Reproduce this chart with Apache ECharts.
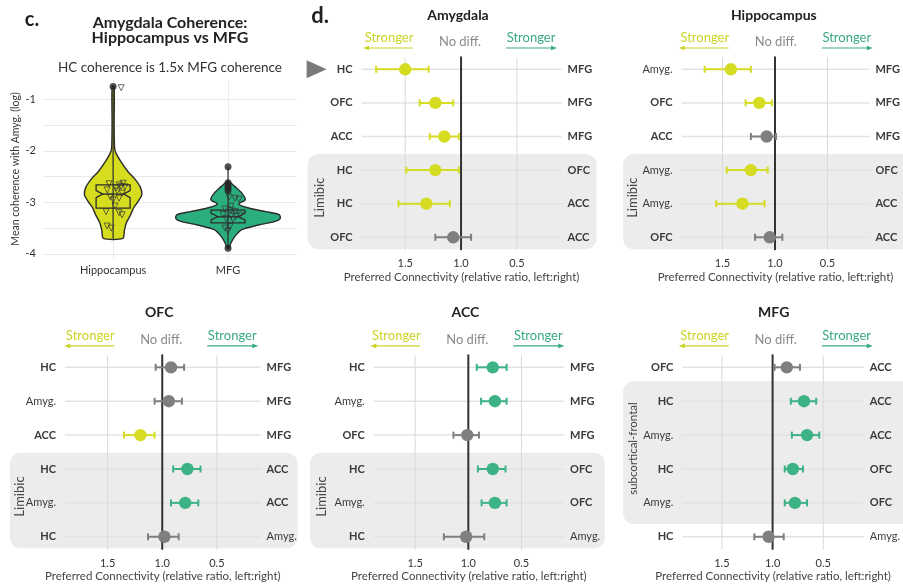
<!DOCTYPE html>
<html><head><meta charset="utf-8">
<script src="https://cdn.jsdelivr.net/npm/echarts@6/dist/echarts.min.js"></script>
<style>html,body{margin:0;padding:0;background:#fff}#c{width:903px;height:586px}</style>
</head><body><div id="c"></div>
<script>
// ---------------- DATA ----------------
// Panel c: violin
const violinGroups = ['Hippocampus', 'MFG'];
const yTickLabels = [-1, -2, -3, -4];
const yGridValues = [-1, -1.5, -2, -2.5, -3, -3.5, -4];
// density outline: y value and half width (x-axis units)
const hcProfileY = [-0.75, -1.5, -1.95, -2.05, -2.2, -2.4, -2.55, -2.7, -2.85, -3.0, -3.1, -3.25, -3.4, -3.55, -3.7];
const hcProfileW = [0.009, 0.009, 0.013, 0.026, 0.065, 0.128, 0.19, 0.236, 0.25, 0.212, 0.18, 0.15, 0.115, 0.098, 0.085];
const mfgProfileY = [-2.6, -2.69, -2.82, -2.95, -3.03, -3.11, -3.18, -3.24, -3.31, -3.37, -3.44, -3.53, -3.66, -3.79, -3.89];
const mfgProfileW = [0.013, 0.058, 0.12, 0.15, 0.093, 0.18, 0.33, 0.445, 0.455, 0.41, 0.265, 0.12, 0.06, 0.025, 0.009];
// notched box: q1, notch low, median, notch high, q3
const hcBox = [-3.11, -2.91, -2.84, -2.77, -2.66];
const mfgBox = [-3.40, -3.34, -3.28, -3.21, -3.15];
const hcWhisker = [-3.70, -0.76];
const mfgWhisker = [-3.89, -2.31];
const hcOutliers = [-0.75];
const mfgOutliers = [-2.31, -2.62, -2.67, -2.72, -2.77, -3.89];
const hcPtsY = [-0.775, -2.64, -2.66, -2.63, -2.69, -2.72, -2.70, -2.76, -2.78, -2.82, -2.89, -2.95, -2.92, -3.07, -3.18, -3.20, -3.24, -3.46, -3.50];
const hcPtsDx = [0.07, -0.035, 0.052, 0.087, 0.07, 0.026, 0.104, -0.052, 0.035, 0.078, -0.026, 0, 0.052, 0.017, -0.061, 0.052, 0.078, -0.052, -0.017];
const mfgPtsY = [-2.90, -2.92, -2.94, -3.07, -3.13, -3.16, -3.18, -3.24, -3.26, -3.27, -3.25, -3.31, -3.33, -3.47, -3.50, -3.55];
const mfgPtsDx = [0.009, 0.061, 0.096, 0.026, -0.026, 0.026, 0.061, -0.043, 0.026, 0.07, 0.104, -0.017, 0.043, 0.017, -0.026, 0];

// Panel d: forest plots (ratio left:right); sig 1 = left stronger, -1 = right stronger, 0 = no diff
const xTicks = [0.5, 1.0, 1.5];
const refValue = [1.0];

const amyLeft = ['HC', 'OFC', 'ACC', 'HC', 'HC', 'OFC'];
const amyRight = ['MFG', 'MFG', 'MFG', 'OFC', 'ACC', 'ACC'];
const amyEst = [1.50, 1.23, 1.15, 1.23, 1.31, 1.07];
const amyUpper = [1.76, 1.37, 1.28, 1.49, 1.56, 1.23];
const amyLower = [1.29, 1.07, 1.02, 1.02, 1.10, 0.91];
const amySig = [1, 1, 1, 1, 1, 0];

const hipLeft = ['Amyg.', 'OFC', 'ACC', 'Amyg.', 'Amyg.', 'OFC'];
const hipRight = ['MFG', 'MFG', 'MFG', 'OFC', 'ACC', 'ACC'];
const hipEst = [1.42, 1.15, 1.08, 1.23, 1.31, 1.05];
const hipUpper = [1.67, 1.28, 1.23, 1.46, 1.56, 1.19];
const hipLower = [1.23, 1.03, 0.99, 1.07, 1.10, 0.93];
const hipSig = [1, 1, 0, 1, 1, 0];

const ofcLeft = ['HC', 'Amyg.', 'ACC', 'HC', 'Amyg.', 'HC'];
const ofcRight = ['MFG', 'MFG', 'MFG', 'ACC', 'ACC', 'Amyg.'];
const ofcEst = [0.92, 0.94, 1.20, 0.77, 0.79, 0.98];
const ofcUpper = [1.06, 1.07, 1.35, 0.90, 0.92, 1.13];
const ofcLower = [0.80, 0.82, 1.07, 0.65, 0.67, 0.85];
const ofcSig = [0, 0, 1, -1, -1, 0];

const accLeft = ['HC', 'Amyg.', 'OFC', 'HC', 'Amyg.', 'HC'];
const accRight = ['MFG', 'MFG', 'MFG', 'OFC', 'OFC', 'Amyg.'];
const accEst = [0.77, 0.75, 1.01, 0.77, 0.75, 1.02];
const accUpper = [0.92, 0.88, 1.14, 0.91, 0.875, 1.23];
const accLower = [0.64, 0.64, 0.90, 0.65, 0.64, 0.85];
const accSig = [-1, -1, 0, -1, -1, 0];

const mfgLeft = ['OFC', 'HC', 'Amyg.', 'HC', 'Amyg.', 'HC'];
const mfgRight = ['ACC', 'ACC', 'ACC', 'OFC', 'OFC', 'Amyg.'];
const mfgEst = [0.86, 0.69, 0.66, 0.80, 0.78, 1.04];
const mfgUpper = [0.98, 0.82, 0.81, 0.88, 0.88, 1.18];
const mfgLower = [0.73, 0.57, 0.54, 0.70, 0.66, 0.89];
const mfgSig = [0, -1, -1, -1, -1, 0];

// ---------------- STYLE / LAYOUT ----------------
const FONT = 'Lato, "Open Sans", sans-serif';
const YELLOW = '#d5dc22', GREEN = '#3db285', GRAY = '#7f7f7f';
const colorOf = s => s > 0 ? YELLOW : (s < 0 ? GREEN : GRAY);
const X_MIN = 0.1, X_MAX = 1.89;

const panels = [
  {title: 'Amygdala', left: 361.6, width: 200, top: 52.5, height: 201.6,
   L: amyLeft, R: amyRight, est: amyEst, up: amyUpper, lo: amyLower, sig: amySig,
   shade: {from: 3, to: 5, padL: 54, padR: 35, padT: 16, padB: 12, label: 'Limibic', dx: 12, size: 13}, mark: 0},
  {title: 'Hippocampus', left: 681.6, width: 191.5, top: 52.5, height: 201.6,
   L: hipLeft, R: hipRight, est: hipEst, up: hipUpper, lo: hipLower, sig: hipSig,
   shade: {from: 3, to: 5, padL: 58.6, padR: 60, padT: 16, padB: 12, label: 'Limibic', dx: 10, size: 13}},
  {title: 'OFC', left: 65, width: 195.6, top: 350.4, height: 203.3,
   L: ofcLeft, R: ofcRight, est: ofcEst, up: ofcUpper, lo: ofcLower, sig: ofcSig,
   shade: {from: 3, to: 5, padL: 55, padR: 37, padT: 16.3, padB: 11.6, label: 'Limibic', dx: 10, size: 13}},
  {title: 'ACC', left: 373.7, width: 190.3, top: 350.4, height: 203.3,
   L: accLeft, R: accRight, est: accEst, up: accUpper, lo: accLower, sig: accSig,
   shade: {from: 3, to: 5, padL: 63.7, padR: 41, padT: 16.3, padB: 11.6, label: 'Limibic', dx: 11.7, size: 13}},
  {title: 'MFG', left: 682.4, width: 189.7, top: 350.4, height: 203.3,
   L: mfgLeft, R: mfgRight, est: mfgEst, up: mfgUpper, lo: mfgLower, sig: mfgSig,
   shade: {from: 1, to: 4, padL: 59.4, padR: 60, padT: 20, padB: 21, label: 'subcortical-frontal', dx: 10, size: 11.5}}
];

const option = {
  animation: false,
  backgroundColor: '#fff',
  textStyle: {fontFamily: FONT},
  grid: [], xAxis: [], yAxis: [], series: [], graphic: []
};

// ---------------- PANEL C: VIOLIN ----------------
option.grid.push({left: 43, top: 80, width: 254, height: 178});
option.xAxis.push({
  gridIndex: 0, type: 'value', min: 0.39, max: 2.6,
  axisLine: {show: false}, axisTick: {show: false, customValues: [1, 2]},
  splitLine: {show: true, lineStyle: {color: '#ececec', width: 1}},
  axisLabel: {customValues: [1, 2], formatter: v => violinGroups[Math.round(v) - 1], margin: 7,
    fontSize: 11, color: '#333', fontFamily: FONT}
});
option.yAxis.push({
  gridIndex: 0, type: 'value', min: -4.08, max: -0.625,
  axisLine: {show: false}, axisTick: {show: false, customValues: yGridValues},
  splitLine: {show: true, lineStyle: {color: '#e9e9e9', width: 1}},
  axisLabel: {customValues: yTickLabels, margin: 7, fontSize: 11, color: '#333', fontFamily: FONT},
  name: 'Mean coherence with Amyg. (log)', nameLocation: 'middle', nameGap: 22,
  nameTextStyle: {fontSize: 10.5, color: '#333', fontFamily: FONT}
});
const violinSets = [
  {py: hcProfileY, pw: hcProfileW, box: hcBox, wh: hcWhisker, fill: '#d6dc1e'},
  {py: mfgProfileY, pw: mfgProfileW, box: mfgBox, wh: mfgWhisker, fill: '#2aae7e'}
];
option.series.push({
  type: 'custom', xAxisIndex: 0, yAxisIndex: 0, z: 2, silent: true,
  data: [[1, -3], [2, -3]],
  renderItem: (params, api) => {
    const g = api.value(0);
    const v = violinSets[params.dataIndex];
    const right = v.py.map((y, i) => api.coord([g + v.pw[i], y]));
    const left = v.py.map((y, i) => api.coord([g - v.pw[i], y])).reverse();
    const outline = right.concat(left);
    const hw = 0.148, nw = 0.09, b = v.box;
    const bp = [
      [g - hw, b[4]], [g + hw, b[4]], [g + hw, b[3]], [g + nw, b[2]], [g + hw, b[1]], [g + hw, b[0]],
      [g - hw, b[0]], [g - hw, b[1]], [g - nw, b[2]], [g - hw, b[3]]
    ].map(p => api.coord(p));
    const w0 = api.coord([g, v.wh[0]]), w1 = api.coord([g, v.wh[1]]);
    const m0 = api.coord([g - nw, b[2]]), m1 = api.coord([g + nw, b[2]]);
    return {type: 'group', children: [
      {type: 'polygon', shape: {points: outline, smooth: 0.25}, style: {fill: v.fill, stroke: '#2b2b2b', lineWidth: 1.4}},
      {type: 'line', shape: {x1: w0[0], y1: w0[1], x2: w1[0], y2: w1[1]}, style: {stroke: '#2b2b2b', lineWidth: 1.2}},
      {type: 'polygon', shape: {points: bp}, style: {fill: 'none', stroke: '#2b2b2b', lineWidth: 1.3}},
      {type: 'line', shape: {x1: m0[0], y1: m0[1], x2: m1[0], y2: m1[1]}, style: {stroke: '#2b2b2b', lineWidth: 1.3}}
    ]};
  }
});
option.series.push({
  type: 'scatter', xAxisIndex: 0, yAxisIndex: 0, z: 3, silent: true,
  symbol: 'triangle', symbolRotate: 180, symbolSize: 6,
  itemStyle: {color: 'rgba(0,0,0,0)', borderColor: '#333', borderWidth: 0.9},
  data: hcPtsY.map((y, i) => [1 + hcPtsDx[i], y]).concat(mfgPtsY.map((y, i) => [2 + mfgPtsDx[i], y]))
});
option.series.push({
  type: 'scatter', xAxisIndex: 0, yAxisIndex: 0, z: 4, silent: true,
  symbol: 'circle', symbolSize: 7, itemStyle: {color: '#262626'},
  data: hcOutliers.map(y => [1, y]).concat(mfgOutliers.map(y => [2, y]))
});
option.graphic.push(
  {type: 'text', x: 32, y: 20, style: {text: 'c.', font: 'bold 20px ' + FONT, fill: '#222', align: 'center', verticalAlign: 'middle'}},
  {type: 'text', x: 170, y: 23, style: {text: 'Amygdala Coherence:', font: 'bold 16px ' + FONT, fill: '#222', align: 'center', verticalAlign: 'middle'}},
  {type: 'text', x: 170, y: 38, style: {text: 'Hippocampus vs MFG', font: 'bold 16px ' + FONT, fill: '#222', align: 'center', verticalAlign: 'middle'}},
  {type: 'text', x: 170, y: 68, style: {text: 'HC coherence is 1.5x MFG coherence', font: '13.5px ' + FONT, fill: '#333', align: 'center', verticalAlign: 'middle'}},
  {type: 'text', x: 320, y: 16, style: {text: 'd.', font: 'bold 22px ' + FONT, fill: '#222', align: 'center', verticalAlign: 'middle'}}
);

// ---------------- PANEL D: FOREST PLOTS ----------------
const labelRich = {
  b: {fontWeight: 'bold', fontSize: 11, color: '#3a3a3a', fontFamily: FONT},
  n: {fontSize: 11, color: '#3a3a3a', fontFamily: FONT}
};
const labelFmt = v => (v === 'Amyg.' ? '{n|' : '{b|') + v + '}';

panels.forEach((p, k) => {
  const gi = option.grid.length;
  option.grid.push({left: p.left, top: p.top, width: p.width, height: p.height});
  option.xAxis.push({
    gridIndex: gi, type: 'value', inverse: true, min: X_MIN, max: X_MAX, z: 6,
    axisLine: {show: false}, axisTick: {show: false}, splitLine: {show: false},
    axisLabel: {customValues: xTicks, formatter: v => v.toFixed(1), margin: 4, fontSize: 11, color: '#333', fontFamily: FONT},
    name: 'Preferred Connectivity (relative ratio, left:right)', nameLocation: 'middle', nameGap: 17,
    nameTextStyle: {fontSize: 11.5, color: '#444', fontFamily: FONT}
  });
  const yi = option.yAxis.length;
  option.yAxis.push({
    gridIndex: gi, type: 'category', inverse: true, data: p.L, z: 6,
    axisLine: {show: false}, axisTick: {show: false}, splitLine: {show: false},
    axisLabel: {margin: 9, formatter: labelFmt, rich: labelRich}
  });
  option.yAxis.push({
    gridIndex: gi, type: 'category', inverse: true, position: 'right', data: p.R, z: 6,
    axisLine: {show: false}, axisTick: {show: false}, splitLine: {show: false},
    axisLabel: {margin: 6, formatter: labelFmt, rich: labelRich}
  });
  const rows = p.L.map((_, i) => i);
  // shaded group
  const s = p.shade;
  option.series.push({
    type: 'custom', xAxisIndex: gi, yAxisIndex: yi, z: 0, silent: true,
    data: [[1, s.from, s.to]],
    renderItem: (params, api) => {
      const cs = params.coordSys;
      const a = api.coord([1, api.value(1)]), b = api.coord([1, api.value(2)]);
      const x = cs.x - s.padL, y = a[1] - s.padT, w = cs.width + s.padL + s.padR, h = b[1] + s.padB - y;
      return {type: 'group', children: [
        {type: 'rect', shape: {x: x, y: y, width: w, height: h, r: 11}, style: {fill: '#ececec'}},
        {type: 'text', x: x + s.dx, y: y + h / 2 - 4, rotation: Math.PI / 2,
         style: {text: s.label, font: s.size + 'px ' + FONT, fill: '#444', align: 'center', verticalAlign: 'middle'}}
      ]};
    }
  });
  // row guide lines
  option.series.push({
    type: 'custom', xAxisIndex: gi, yAxisIndex: yi, z: 2, silent: true,
    data: rows.map(i => [1, i]),
    renderItem: (params, api) => {
      const cs = params.coordSys; const c = api.coord([1, api.value(1)]);
      return {type: 'line', shape: {x1: cs.x, y1: c[1], x2: cs.x + cs.width, y2: c[1]}, style: {stroke: '#e3e3e3', lineWidth: 1.5}};
    }
  });
  // vertical grid lines
  option.series.push({
    type: 'custom', xAxisIndex: gi, yAxisIndex: yi, z: 2, silent: true,
    data: xTicks.map(v => [v, 0]),
    renderItem: (params, api) => {
      const cs = params.coordSys; const c = api.coord([api.value(0), 0]);
      return {type: 'line', shape: {x1: c[0], y1: cs.y + 5, x2: c[0], y2: cs.y + cs.height - 4}, style: {stroke: '#d9d9d9', lineWidth: 1}};
    }
  });
  // reference line at ratio 1
  option.series.push({
    type: 'custom', xAxisIndex: gi, yAxisIndex: yi, z: 3, silent: true,
    data: refValue.map(v => [v, 0]),
    renderItem: (params, api) => {
      const cs = params.coordSys; const c = api.coord([api.value(0), 0]);
      return {type: 'line', shape: {x1: c[0], y1: cs.y + 4, x2: c[0], y2: cs.y + cs.height - 4}, style: {stroke: '#333', lineWidth: 2}};
    }
  });
  // estimates with CI
  option.series.push({
    type: 'custom', xAxisIndex: gi, yAxisIndex: yi, z: 4, silent: true,
    data: rows.map(i => [p.est[i], i, p.up[i], p.lo[i], p.sig[i]]),
    renderItem: (params, api) => {
      const c = api.coord([api.value(0), api.value(1)]);
      const a = api.coord([api.value(2), api.value(1)]);
      const b = api.coord([api.value(3), api.value(1)]);
      const col = colorOf(api.value(4));
      const st = {stroke: col, lineWidth: 2};
      return {type: 'group', children: [
        {type: 'line', shape: {x1: a[0], y1: c[1], x2: b[0], y2: c[1]}, style: st},
        {type: 'line', shape: {x1: a[0], y1: c[1] - 3.5, x2: a[0], y2: c[1] + 3.5}, style: st},
        {type: 'line', shape: {x1: b[0], y1: c[1] - 3.5, x2: b[0], y2: c[1] + 3.5}, style: st},
        {type: 'circle', shape: {cx: c[0], cy: c[1], r: 6.2}, style: {fill: col}}
      ]};
    }
  });
  // highlight marker
  if (p.mark !== undefined) {
    option.series.push({
      type: 'custom', xAxisIndex: gi, yAxisIndex: yi, z: 4, silent: true,
      data: [[1, p.mark]],
      renderItem: (params, api) => {
        const cs = params.coordSys; const c = api.coord([1, api.value(1)]);
        const x0 = cs.x - 55;
        return {type: 'polygon', shape: {points: [[x0, c[1] - 9], [x0 + 20, c[1]], [x0, c[1] + 9]]}, style: {fill: '#7a7a7a'}};
      }
    });
  }
  // header: title, direction cues
  const x1 = p.left + (X_MAX - 1) / (X_MAX - X_MIN) * p.width;
  const gt = p.top;
  option.graphic.push(
    {type: 'text', x: x1 - 3, y: gt - 37.5, style: {text: p.title, font: 'bold 14px ' + FONT, fill: '#222', align: 'center', verticalAlign: 'middle'}},
    {type: 'text', x: x1 - 72, y: gt - 15, style: {text: 'Stronger', font: '13px ' + FONT, fill: '#cbd425', align: 'center', verticalAlign: 'middle'}},
    {type: 'line', shape: {x1: x1 - 95, y1: gt - 4.5, x2: x1 - 48, y2: gt - 4.5}, style: {stroke: '#cbd425', lineWidth: 1.2}},
    {type: 'polygon', shape: {points: [[x1 - 98, gt - 4.5], [x1 - 92, gt - 6.8], [x1 - 92, gt - 2.2]]}, style: {fill: '#cbd425'}},
    {type: 'text', x: x1 - 1, y: gt - 10.5, style: {text: 'No diff.', font: '13px ' + FONT, fill: '#8a8a8a', align: 'center', verticalAlign: 'middle'}},
    {type: 'text', x: x1 + 70, y: gt - 15, style: {text: 'Stronger', font: '13px ' + FONT, fill: '#3aa886', align: 'center', verticalAlign: 'middle'}},
    {type: 'line', shape: {x1: x1 + 45, y1: gt - 4.5, x2: x1 + 93, y2: gt - 4.5}, style: {stroke: '#3aa886', lineWidth: 1.2}},
    {type: 'polygon', shape: {points: [[x1 + 96, gt - 4.5], [x1 + 90, gt - 6.8], [x1 + 90, gt - 2.2]]}, style: {fill: '#3aa886'}}
  );
});

const chart = echarts.init(document.getElementById('c'), null, {renderer: 'canvas'});
chart.setOption(option);
</script>
</body></html>
